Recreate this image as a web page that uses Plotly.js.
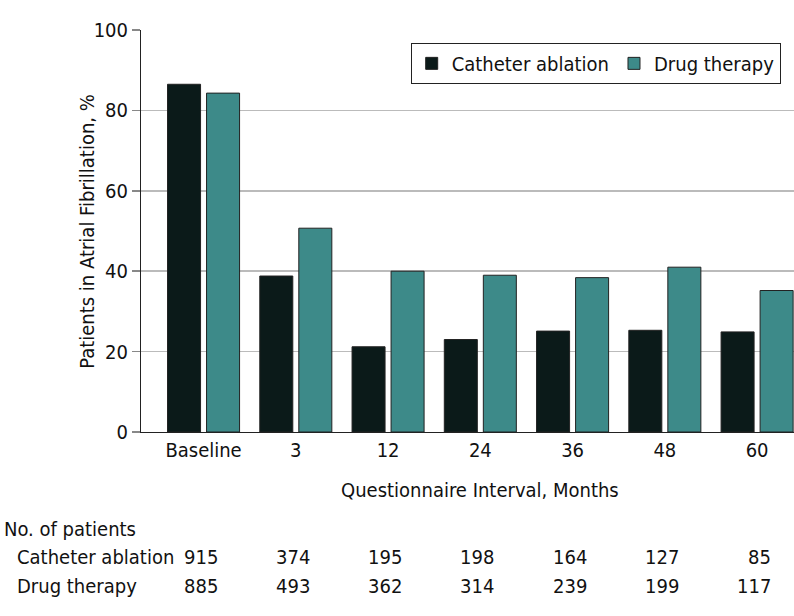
<!DOCTYPE html>
<html><head><meta charset="utf-8">
<script src="https://cdn.plot.ly/plotly-3.0.1.min.js"></script>
<style>html,body{margin:0;padding:0;background:#fff}#chart{width:794px;height:616px}</style>
</head><body><div id="chart"></div>
<script>
const categories = ["Baseline", "3", "12", "24", "36", "48", "60"];
const seriesNames = ["Catheter ablation", "Drug therapy"];
const catheterAblation = [86.5, 38.8, 21.2, 23.0, 25.1, 25.3, 24.9];
const drugTherapy = [84.3, 50.7, 40.0, 39.0, 38.4, 41.0, 35.2];
const nCatheter = [915, 374, 195, 198, 164, 127, 85];
const nDrug = [885, 493, 362, 314, 239, 199, 117];
const tableTitle = "No. of patients";
const xTitle = "Questionnaire Interval, Months";
const yTitle = "Patients in Atrial Fibrillation, %";

const FONT = '"DejaVu Sans Condensed", "Roboto", sans-serif';
const TXT = '#111';
const idx = categories.map((c, i) => i);

const traces = [
  {type: 'bar', name: seriesNames[0], x: idx, y: catheterAblation,
   marker: {color: '#0b1a19', line: {color: '#222', width: 1}}},
  {type: 'bar', name: seriesNames[1], x: idx, y: drugTherapy,
   marker: {color: '#3d8a89', line: {color: '#222', width: 1}}}
];

const annotations = [];
annotations.push({xref: 'x', yref: 'paper', x: (categories.length - 1) / 2, y: -0.145,
  text: xTitle, showarrow: false, xanchor: 'center', yanchor: 'middle', font: {size: 20, color: TXT, family: FONT}});
annotations.push({xref: 'paper', yref: 'paper', x: -0.083, y: 0.5, text: yTitle, textangle: -90,
  showarrow: false, xanchor: 'center', yanchor: 'middle', font: {size: 20, color: TXT, family: FONT}});
annotations.push({xref: 'paper', yref: 'paper', x: -0.213, y: -0.241, text: tableTitle,
  showarrow: false, xanchor: 'left', yanchor: 'middle', font: {size: 20, color: TXT, family: FONT}});
const rows = [[seriesNames[0], nCatheter, -0.311], [seriesNames[1], nDrug, -0.383]];
rows.forEach(([label, vals, yy]) => {
  annotations.push({xref: 'paper', yref: 'paper', x: -0.193, y: yy, text: label,
    showarrow: false, xanchor: 'left', yanchor: 'middle', font: {size: 20, color: TXT, family: FONT}});
  vals.forEach((v, i) => {
    annotations.push({xref: 'x', yref: 'paper', x: i, y: yy, text: String(v), xshift: 16,
      showarrow: false, xanchor: 'right', yanchor: 'middle', font: {size: 20, color: TXT, family: FONT}});
  });
});

const layout = {
  width: 794, height: 616,
  margin: {l: 141, r: 0, t: 30, b: 184},
  paper_bgcolor: '#fff', plot_bgcolor: '#fff',
  font: {family: FONT, size: 20, color: TXT},
  barmode: 'group', bargap: 0.154, bargroupgap: 0.154,
  showlegend: true,
  legend: {orientation: 'h', x: 0.413, y: 0.968, xanchor: 'left', yanchor: 'top',
    bordercolor: '#222', borderwidth: 1, bgcolor: '#fff', font: {size: 20, family: FONT, color: TXT},
    itemwidth: 30, traceorder: 'normal'},
  xaxis: {range: [-0.678, 6.40], tickmode: 'array', tickvals: idx, ticktext: categories,
    showline: true, linecolor: '#222', linewidth: 1, ticks: '', showgrid: false, zeroline: false,
    tickfont: {size: 20, family: FONT, color: TXT}, fixedrange: true},
  yaxis: {range: [0, 100], tickvals: [0, 20, 40, 60, 80, 100], showline: true, linecolor: '#222', linewidth: 1,
    ticks: 'outside', ticklen: 8, tickcolor: '#888', tickwidth: 1.5,
    showgrid: true, gridcolor: '#bbb', gridwidth: 1.5, zeroline: false,
    tickfont: {size: 20, family: FONT, color: TXT}},
  annotations: annotations
};

Plotly.newPlot('chart', traces, layout, {displayModeBar: false, staticPlot: true});
</script></body></html>
